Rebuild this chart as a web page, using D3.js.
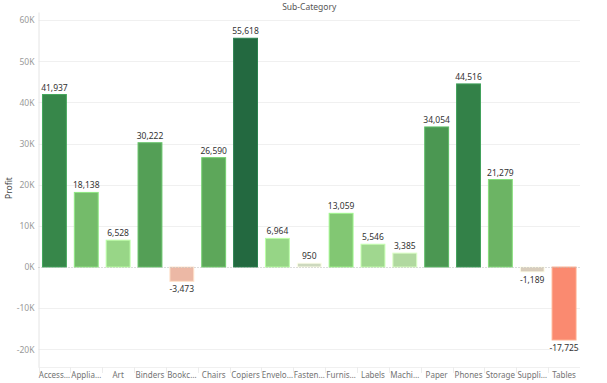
<!DOCTYPE html>
<html>
  <head>
    <title>Profit by Sub-Category</title>
    <script src="https://d3js.org/d3.v7.min.js"></script>
    <style>
      body { margin: 0; background: #fff; }
      svg text { font-family: "Noto Sans", "DejaVu Sans", sans-serif; }
      .tick text { fill: #999; font-size: 8.5px; }
      .xcat text { fill: #737373; font-size: 8px; }
      .valueLabel { fill: #333; font-size: 8.5px; }
    </style>
  </head>
  <body>
    <script>
      // data
      var categories = ["Accessories","Appliances","Art","Binders","Bookcases","Chairs","Copiers","Envelopes",
        "Fasteners","Furnishings","Labels","Machines","Paper","Phones","Storage","Supplies","Tables"];
      var shortLabels = ["Access…","Applia…","Art","Binders","Bookc…","Chairs","Copiers","Envelo…",
        "Fasten…","Furnis…","Labels","Machi…","Paper","Phones","Storage","Suppli…","Tables"];
      var profit = [41937, 18138, 6528, 30222, -3473, 26590, 55618, 6964,
        950, 13059, 5546, 3385, 34054, 44516, 21279, -1189, -17725];
      var yTicks = [-20000, -10000, 0, 10000, 20000, 30000, 40000, 50000, 60000];

      var width = 607, height = 383;
      var margin = {top: 12, left: 38.5, right: 27, bottom: 16};

      var svg = d3.select("body").append("svg")
        .attr("width", width)
        .attr("height", height);

      var xScale = d3.scaleBand()
        .domain(categories)
        .range([margin.left, width - margin.right])
        .paddingInner(0.25)
        .paddingOuter(0.125);

      var yScale = d3.scaleLinear()
        .domain([-24300, 62000])
        .range([height - margin.bottom, margin.top]);

      // plain hyphen minus like the original
      var fmt = function(v){ return d3.format(",")(v).replace("\u2212", "-"); };

      // diverging red-green colouring like tableau's default
      var color = d3.scaleLinear()
        .domain([-17725, -3473, -1189, 0, 950, 3385, 6500, 13059, 26590, 41937, 55618])
        .range(["#fa8a70","#ecb8a5","#d8cdbc","#d6d3c4","#cdd9be","#b1d9a0","#98d687","#82c773","#5da75a","#37874a","#236940"])
        .clamp(true);

      // grid
      svg.append("g")
        .selectAll("line")
        .data(yTicks.filter(function(d){ return d != 0; }))
        .enter().append("line")
          .attr("x1", margin.left)
          .attr("x2", width - margin.right)
          .attr("y1", function(d){ return Math.round(yScale(d)) + 0.5; })
          .attr("y2", function(d){ return Math.round(yScale(d)) + 0.5; })
          .attr("stroke", "#f0f0f0");

      var yAxis = svg.append("g")
        .attr("transform", `translate(${margin.left},0)`)
        .call(d3.axisLeft(yScale).tickValues(yTicks).tickSize(0).tickPadding(4)
          .tickFormat(function(d){ return fmt(d/1000) + "K"; }));
      yAxis.select(".domain").attr("stroke", "#e4e4e4");

      // bottom separators
      var bottom = height - margin.bottom;
      svg.append("line")
        .attr("x1", margin.left).attr("x2", width - margin.right)
        .attr("y1", bottom + 0.5).attr("y2", bottom + 0.5)
        .attr("stroke", "#f0f0f0");
      var step = xScale.step();
      svg.append("g")
        .selectAll("line")
        .data(categories)
        .enter().append("line")
          .attr("x1", function(d){ return Math.round(xScale(d) - step*0.125) + 0.5; })
          .attr("x2", function(d){ return Math.round(xScale(d) - step*0.125) + 0.5; })
          .attr("y1", bottom)
          .attr("y2", bottom + 6)
          .attr("stroke", "#ececec");

      svg.append("g")
        .selectAll("rect")
        .data(categories)
        .enter().append("rect")
          .attr("x", function(d){ return xScale(d); })
          .attr("width", xScale.bandwidth())
          .attr("y", function(d, i){ return yScale(Math.max(0, profit[i])); })
          .attr("height", function(d, i){ return Math.abs(yScale(profit[i]) - yScale(0)); })
          .attr("fill", function(d, i){ return color(profit[i]); })
          .attr("stroke", function(d, i){ return d3.color(color(profit[i])).brighter(0.6); })
          .attr("stroke-width", 1);

      // zero line (dotted)
      svg.append("line")
        .attr("x1", margin.left).attr("x2", width - margin.right)
        .attr("y1", Math.round(yScale(0)) + 0.5).attr("y2", Math.round(yScale(0)) + 0.5)
        .attr("stroke", "#bbb")
        .attr("stroke-dasharray", "1,2");

      svg.append("g")
        .selectAll("text")
        .data(categories)
        .enter().append("text")
          .attr("class", "valueLabel")
          .attr("x", function(d){ return xScale(d) + xScale.bandwidth()/2; })
          .attr("y", function(d, i){ return profit[i] >= 0 ? yScale(profit[i]) - 4 : yScale(profit[i]) + 11; })
          .attr("text-anchor", "middle")
          .text(function(d, i){ return fmt(profit[i]); });

      svg.append("g")
        .attr("class", "xcat")
        .selectAll("text")
        .data(categories)
        .enter().append("text")
          .attr("x", function(d){ return xScale(d) + xScale.bandwidth()/2; })
          .attr("y", bottom + 11)
          .attr("text-anchor", "middle")
          .text(function(d, i){ return shortLabels[i]; });

      svg.append("text")
        .attr("x", (margin.left + width - margin.right)/2)
        .attr("y", 10)
        .attr("text-anchor", "middle")
        .attr("fill", "#555")
        .style("font-size", "8.5px")
        .text("Sub-Category");

      svg.append("text")
        .attr("transform", "rotate(-90)")
        .attr("x", -188)
        .attr("y", 12)
        .attr("text-anchor", "middle")
        .attr("fill", "#444")
        .style("font-size", "8.5px")
        .text("Profit");
    </script>
  </body>
</html>
